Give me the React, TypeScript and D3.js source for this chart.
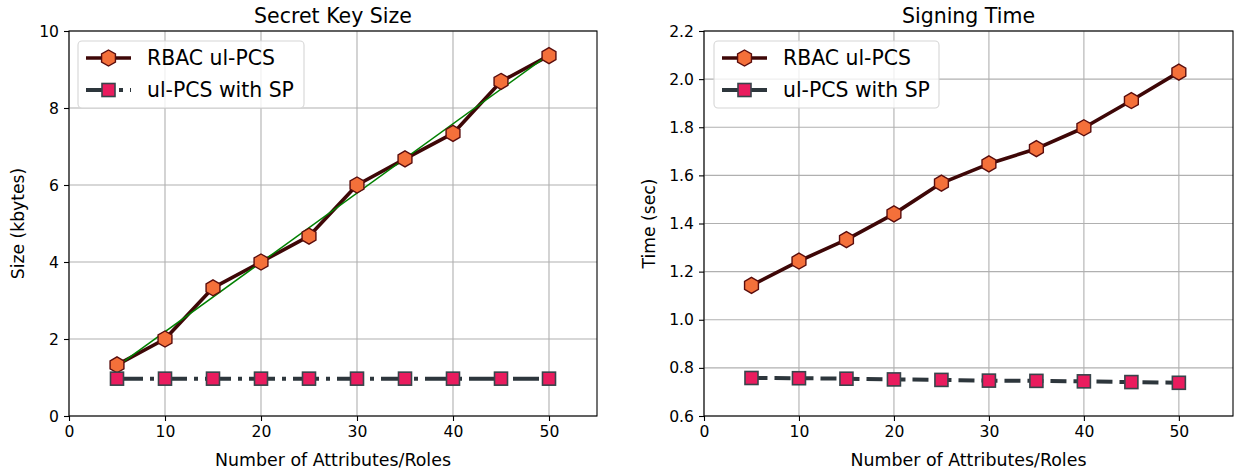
import React, { useRef, useEffect } from 'react';
import * as d3 from 'd3';

// x values shared by both panels
const attributes = [5, 10, 15, 20, 25, 30, 35, 40, 45, 50];

// Secret key size (kbytes)
const keySizeRbac = [1.33, 2.0, 3.33, 4.0, 4.67, 6.0, 6.68, 7.34, 8.69, 9.36];
const keySizeSp = [0.97, 0.97, 0.97, 0.97, 0.97, 0.97, 0.97, 0.97, 0.97, 0.97];

// Signing time (sec)
const signTimeRbac = [1.143, 1.244, 1.333, 1.44, 1.568, 1.648, 1.711, 1.798, 1.911, 2.029];
const signTimeSp = [0.758, 0.757, 0.755, 0.752, 0.75, 0.747, 0.746, 0.744, 0.741, 0.738];

const xTicks = [0, 10, 20, 30, 40, 50];
const keyTicks = [0, 2, 4, 6, 8, 10];
const timeTicks = [0.6, 0.8, 1.0, 1.2, 1.4, 1.6, 1.8, 2.0, 2.2];

const seriesNames = ['RBAC ul-PCS', 'ul-PCS with SP'];

const FONT = '"DejaVu Sans", sans-serif';
const RBAC_LINE = '#3e0707';
const RBAC_FILL = '#f4703a';
const RBAC_EDGE = '#5a0d0d';
const SP_LINE = '#2d363c';
const SP_FILL = '#e91c5e';
const SP_EDGE = '#38444b';

const hexPath = (r) => {
  const pts = d3.range(6).map((k) => {
    const a = ((-90 + 60 * k) * Math.PI) / 180;
    return [r * Math.cos(a), r * Math.sin(a)];
  });
  return 'M' + pts.map((p) => p.join(',')).join('L') + 'Z';
};

// least-squares fit used for the green trend line
const linearFit = (xs, ys) => {
  const mx = d3.mean(xs);
  const my = d3.mean(ys);
  const sxy = d3.sum(xs, (x, i) => (x - mx) * (ys[i] - my));
  const sxx = d3.sum(xs, (x) => (x - mx) * (x - mx));
  const slope = sxy / sxx;
  return (x) => my + slope * (x - mx);
};

const App = () => {
  const ref = useRef(null);

  useEffect(() => {
    const svg = d3.select(ref.current);
    svg.selectAll('*').remove();

    const panels = [
      {
        left: 69, right: 597, top: 31, bottom: 416,
        xMax: 55, yDomain: [0, 10], yTicks: keyTicks, fmt: d3.format('d'),
        title: 'Secret Key Size', ylabel: 'Size (kbytes)', ylabelX: 18,
        rbac: keySizeRbac, sp: keySizeSp, spDash: '26,7,4,7', legendDash: '26,7,4,7', fit: true,
        legend: { x: 78, y: 41, w: 226, h: 67 },
      },
      {
        left: 704, right: 1233, top: 31, bottom: 416,
        xMax: 55.7, yDomain: [0.6, 2.2], yTicks: timeTicks, fmt: d3.format('.1f'),
        title: 'Signing Time', ylabel: 'Time (sec)', ylabelX: 649,
        rbac: signTimeRbac, sp: signTimeSp, spDash: '16,7', legendDash: null, fit: false,
        legend: { x: 714, y: 41, w: 225, h: 67 },
      },
    ];

    panels.forEach((p) => {
      const x = d3.scaleLinear().domain([0, p.xMax]).range([p.left, p.right]);
      const y = d3.scaleLinear().domain(p.yDomain).range([p.bottom, p.top]);
      const g = svg.append('g');

      // grid
      g.selectAll('.gx').data(xTicks).enter().append('line')
        .attr('x1', (d) => x(d)).attr('x2', (d) => x(d))
        .attr('y1', p.top).attr('y2', p.bottom)
        .attr('stroke', '#b0b0b0').attr('stroke-width', 1.1);
      g.selectAll('.gy').data(p.yTicks).enter().append('line')
        .attr('x1', p.left).attr('x2', p.right)
        .attr('y1', (d) => y(d)).attr('y2', (d) => y(d))
        .attr('stroke', '#b0b0b0').attr('stroke-width', 1.1);

      const line = d3.line().x((d) => x(d[0])).y((d) => y(d[1]));
      const rbacPts = attributes.map((a, i) => [a, p.rbac[i]]);
      const spPts = attributes.map((a, i) => [a, p.sp[i]]);

      g.append('path').attr('d', line(rbacPts)).attr('fill', 'none')
        .attr('stroke', RBAC_LINE).attr('stroke-width', 3.6).attr('stroke-linejoin', 'round');

      if (p.fit) {
        const f = linearFit(attributes, p.rbac);
        const a0 = attributes[0];
        const a1 = attributes[attributes.length - 1];
        g.append('path').attr('d', line([[a0, f(a0)], [a1, f(a1)]]))
          .attr('stroke', '#008000').attr('stroke-width', 1.5).attr('fill', 'none');
      }

      g.selectAll('.hex').data(rbacPts).enter().append('path')
        .attr('d', hexPath(8))
        .attr('transform', (d) => `translate(${x(d[0])},${y(d[1])})`)
        .attr('fill', RBAC_FILL).attr('stroke', RBAC_EDGE).attr('stroke-width', 1.4);

      g.append('path').attr('d', line(spPts)).attr('fill', 'none')
        .attr('stroke', SP_LINE).attr('stroke-width', 4)
        .attr('stroke-dasharray', p.spDash);

      g.selectAll('.sq').data(spPts).enter().append('rect')
        .attr('x', (d) => x(d[0]) - 6.5).attr('y', (d) => y(d[1]) - 6.5)
        .attr('width', 13).attr('height', 13)
        .attr('fill', SP_FILL).attr('stroke', SP_EDGE).attr('stroke-width', 1.6);

      // spines
      g.append('rect').attr('x', p.left).attr('y', p.top)
        .attr('width', p.right - p.left).attr('height', p.bottom - p.top)
        .attr('fill', 'none').attr('stroke', '#000').attr('stroke-width', 1.1);

      // x axis
      const xa = g.append('g').attr('transform', `translate(0,${p.bottom})`)
        .call(d3.axisBottom(x).tickValues(xTicks).tickSize(5).tickPadding(5).tickFormat(d3.format('d')));
      xa.select('.domain').remove();
      xa.selectAll('text').attr('font-size', 15.6).attr('font-family', FONT).attr('fill', '#000');
      xa.selectAll('line').attr('stroke', '#000').attr('stroke-width', 1.1);

      // y axis
      const ya = g.append('g').attr('transform', `translate(${p.left},0)`)
        .call(d3.axisLeft(y).tickValues(p.yTicks).tickSize(5).tickPadding(5).tickFormat(p.fmt));
      ya.select('.domain').remove();
      ya.selectAll('text').attr('font-size', 15.6).attr('font-family', FONT).attr('fill', '#000');
      ya.selectAll('line').attr('stroke', '#000').attr('stroke-width', 1.1);

      // labels
      g.append('text').attr('x', (p.left + p.right) / 2).attr('y', 23)
        .attr('text-anchor', 'middle').attr('font-family', FONT).attr('font-size', 20.5)
        .text(p.title);
      g.append('text').attr('x', (p.left + p.right) / 2).attr('y', 466)
        .attr('text-anchor', 'middle').attr('font-family', FONT).attr('font-size', 17.4)
        .text('Number of Attributes/Roles');
      g.append('text')
        .attr('transform', `translate(${p.ylabelX},${(p.top + p.bottom) / 2}) rotate(-90)`)
        .attr('text-anchor', 'middle').attr('dominant-baseline', 'central')
        .attr('font-family', FONT).attr('font-size', 17.2)
        .text(p.ylabel);

      // legend
      const L = p.legend;
      const lg = g.append('g');
      lg.append('rect').attr('x', L.x).attr('y', L.y).attr('width', L.w).attr('height', L.h)
        .attr('rx', 4).attr('fill', 'rgba(255,255,255,0.8)').attr('stroke', '#d6d6d6').attr('stroke-width', 1.1);
      const hx0 = L.x + 8;
      const hx1 = L.x + 53;
      const hm = (hx0 + hx1) / 2;
      const rows = [L.y + 17, L.y + 49];
      lg.append('line').attr('x1', hx0).attr('x2', hx1).attr('y1', rows[0]).attr('y2', rows[0])
        .attr('stroke', RBAC_LINE).attr('stroke-width', 3.6);
      lg.append('path').attr('d', hexPath(8)).attr('transform', `translate(${hm},${rows[0]})`)
        .attr('fill', RBAC_FILL).attr('stroke', RBAC_EDGE).attr('stroke-width', 1.4);
      lg.append('line').attr('x1', hx0).attr('x2', hx1).attr('y1', rows[1]).attr('y2', rows[1])
        .attr('stroke', SP_LINE).attr('stroke-width', 4).attr('stroke-dasharray', p.legendDash);
      lg.append('rect').attr('x', hm - 6.5).attr('y', rows[1] - 6.5).attr('width', 13).attr('height', 13)
        .attr('fill', SP_FILL).attr('stroke', SP_EDGE).attr('stroke-width', 1.6);
      seriesNames.forEach((name, i) => {
        lg.append('text').attr('x', L.x + 69).attr('y', rows[i])
          .attr('dominant-baseline', 'central').attr('font-family', FONT).attr('font-size', 20.4)
          .text(name);
      });
    });
  }, []);

  return (
    <svg ref={ref} width={1235} height={473}
      style={{ position: 'absolute', left: 0, top: 0, background: '#fff' }} />
  );
};

export default App;
